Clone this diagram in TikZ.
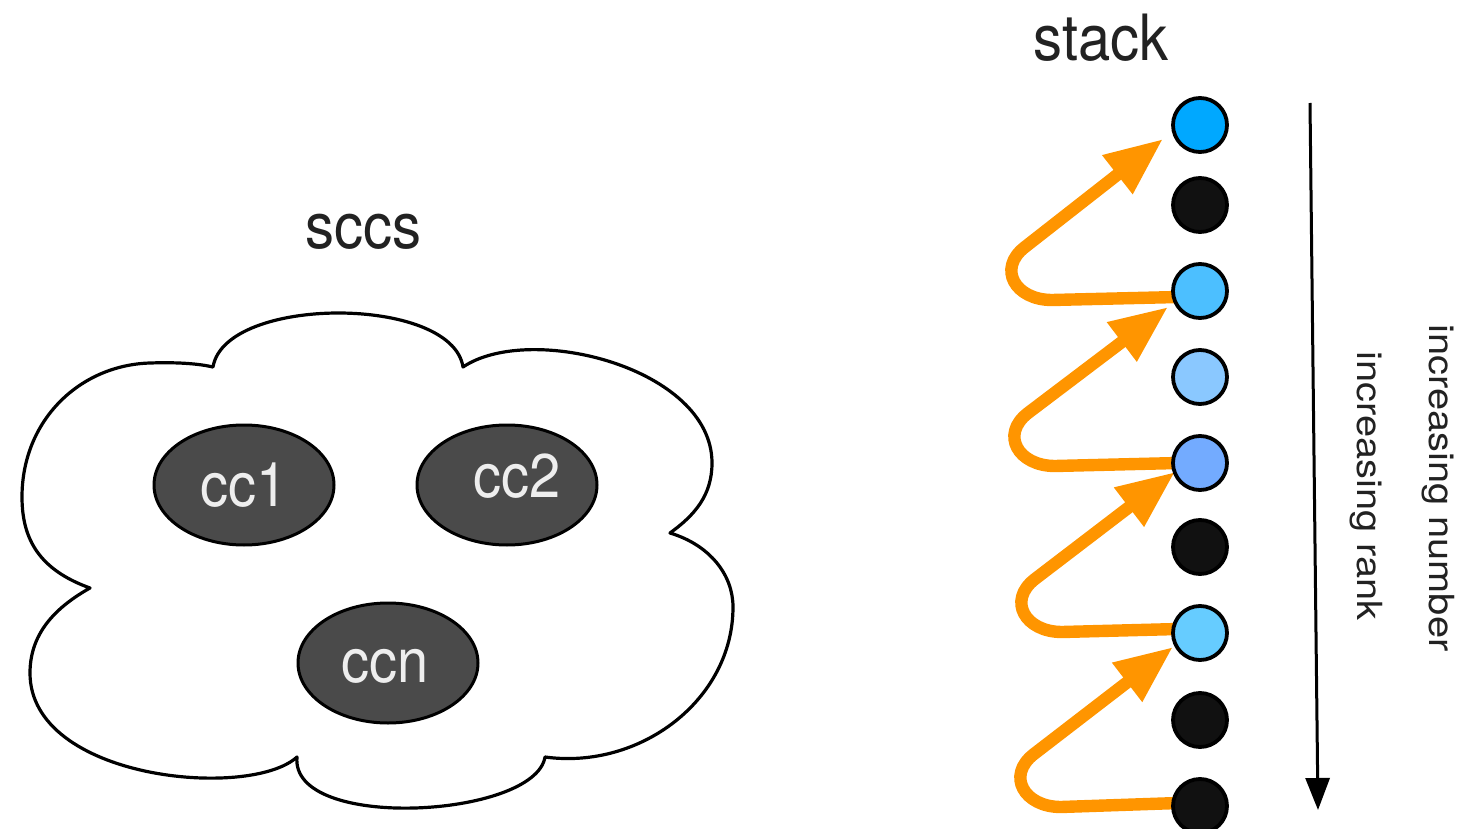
\documentclass[tikz,border=0pt]{standalone}
\usepackage{fontspec}
\setmainfont{TeX Gyre Heros}
\usetikzlibrary{arrows.meta,shapes.geometric,calc,backgrounds}
\definecolor{orng}{HTML}{FF9500}
\definecolor{ccgray}{HTML}{4A4A4A}
\definecolor{cctext}{HTML}{EEEEEE}
\definecolor{dtext}{HTML}{222222}
\definecolor{blueA}{HTML}{00A8FF}
\definecolor{blueB}{HTML}{4CBFFF}
\definecolor{blueC}{HTML}{8AC8FF}
\definecolor{blueD}{HTML}{73ABFF}
\definecolor{blueE}{HTML}{66CCFF}
\definecolor{blk}{HTML}{111111}
\newcommand{\tallA}[1]{\scalebox{1}[1.1]{#1}}
\newcommand{\flatA}[1]{\scalebox{1}[0.87]{#1}}
\begin{document}
\begin{tikzpicture}[x=0.5pt,y=-0.5pt,
  stackdot/.style={circle,draw=black,line width=1.9pt,minimum size=27pt,inner sep=0pt},
  ccell/.style={ellipse,draw=black,line width=1.5pt,fill=ccgray,minimum width=90pt,minimum height=60pt,inner sep=0pt},
  cclbl/.style={inner sep=0pt,text=cctext,font=\fontsize{28}{30}\selectfont},
  bigtext/.style={inner sep=0pt,text=dtext,font=\fontsize{29}{31}\selectfont},
  sidetext/.style={inner sep=0pt,text=dtext,rotate=-90,font=\fontsize{19.9}{21}\selectfont},
  push/.style={draw=orng,line width=6.2pt,line join=round,-{Triangle[length=29pt,width=23pt]}},
  cloudline/.style={draw=black,fill=white,line width=1.6pt,line join=round},
  rankarrow/.style={draw=black,line width=1.5pt,-{Triangle[length=16pt,width=12pt]}}]
\useasboundingbox (0,0) rectangle (1457,829);

% cloud of sccs
\draw[cloudline] (213,367) .. controls (225,295) and (452,295) .. (463,367)
  .. controls (530,322) and (712,368) .. (712,463)
  .. controls (712,495) and (695,515) .. (670,533)
  .. controls (710,545) and (733,575) .. (733,607)
  .. controls (733,700) and (640,770) .. (545,757)
  .. controls (535,818) and (290,832) .. (297,757)
  .. controls (250,800) and (30,780) .. (30,673)
  .. controls (30,630) and (60,605) .. (90,588)
  .. controls (40,570) and (22,540) .. (22,497)
  .. controls (22,420) and (80,365) .. (150,363)
  .. controls (180,362) and (200,364) .. cycle;

\node[ccell] (cc1) at (244,485) {};
\node[cclbl] (cc1t) at (cc1) {\tallA{cc1}};
\node[ccell] (cc2) at (507,485) {};
\node[cclbl] (cc2t) at ($(cc2)+(10,-9)$) {\tallA{cc2}};
\node[ccell] (ccn) at (388,663) {};
\node[cclbl] (ccnt) at ($(ccn)+(-3,3)$) {\tallA{ccn}};

\node[bigtext] (sccs) at (363,232) {\tallA{sccs}};
\node[bigtext] (stack) at (1101,38) {\tallA{stack}};

% stack
\node[stackdot,fill=blueA] (s1) at (1200,125) {};
\node[stackdot,fill=blk]   (s2) at (1200,205) {};
\node[stackdot,fill=blueB] (s3) at (1200,291) {};
\node[stackdot,fill=blueC] (s4) at (1200,377) {};
\node[stackdot,fill=blueD] (s5) at (1200,463) {};
\node[stackdot,fill=blk]   (s6) at (1200,547) {};
\node[stackdot,fill=blueE] (s7) at (1200,633) {};
\node[stackdot,fill=blk]   (s8) at (1200,720) {};
\node[stackdot,fill=blk]   (s9) at (1200,806) {};

\begin{scope}[on background layer]
\draw[push] ($(s3)+(-22,6)$) -- (1052,300) .. controls (1015,300) and (997,268.5) .. (1025,247) -- ($(s1)+(-37,14)$);
\draw[push] ($(s5)+(-22,0)$) -- (1055,466) .. controls (1018,466) and (1000,434.5) .. (1028,413) -- ($(s3)+(-32,16)$);
\draw[push] ($(s7)+(-22,-4)$) -- (1062,632) .. controls (1025,632) and (1007,600.5) .. (1035,579) -- ($(s5)+(-25,9)$);
\draw[push] ($(s9)+(-22,-3)$) -- (1061,807) .. controls (1024,807) and (1006,775.5) .. (1034,754) -- ($(s7)+(-27,14)$);
\end{scope}

% rank arrow
\coordinate (rtop) at (1310,103);
\coordinate (rbot) at (1318,810);
\draw[rankarrow] (rtop) -- (rbot);

\node[sidetext] (num) at (1438,488) {\flatA{increasing number}};
\node[sidetext] (rank) at (1366,486) {\flatA{increasing rank}};
\end{tikzpicture}
\end{document}
